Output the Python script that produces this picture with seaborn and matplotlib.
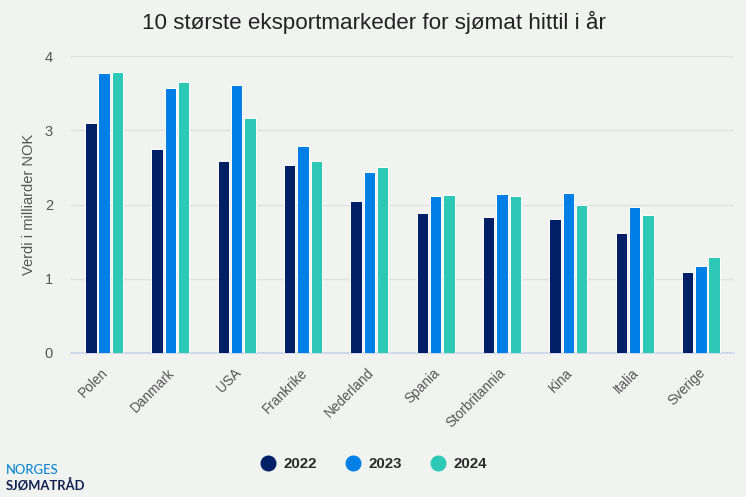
import matplotlib
matplotlib.use("Agg")
import matplotlib.pyplot as plt
import matplotlib.transforms as mtrans
import pandas as pd
import seaborn as sns
from matplotlib.lines import Line2D

countries = ["Polen", "Danmark", "USA", "Frankrike", "Nederland", "Spania",
             "Storbritannia", "Kina", "Italia", "Sverige"]
v2022 = [3.10, 2.75, 2.58, 2.53, 2.05, 1.88, 1.83, 1.81, 1.61, 1.09]
v2023 = [3.77, 3.57, 3.61, 2.79, 2.44, 2.11, 2.14, 2.16, 1.96, 1.17]
v2024 = [3.79, 3.65, 3.17, 2.58, 2.50, 2.13, 2.11, 1.99, 1.86, 1.29]
years = ["2022", "2023", "2024"]
colors = ["#001f66", "#0080e6", "#2dc8b6"]
BG = "#f1f3f1"

df = pd.DataFrame({"land": countries * 3,
                   "år": sum([[y] * 10 for y in years], []),
                   "verdi": v2022 + v2023 + v2024})

sns.set_theme(style="white")
plt.rcParams["font.family"] = ["Liberation Sans", "DejaVu Sans"]
fig = plt.figure(figsize=(7.46, 4.97), dpi=100, facecolor=BG)
ax = fig.add_axes([71 / 746, 1 - 353 / 497, 663 / 746, 297 / 497], facecolor=BG)

sns.barplot(data=df, x="land", y="verdi", hue="år", palette=colors, width=0.6,
            gap=0.14, edgecolor="white", linewidth=0.7, saturation=1,
            legend=False, ax=ax, zorder=3)

ax.set_xlim(-0.5, 9.5)
ax.set_ylim(0, 4)
ax.set_yticks([0, 1, 2, 3, 4])
ax.grid(axis="y", color="#e0e2e0", lw=1, zorder=0)
ax.set_axisbelow(True)
for s in ax.spines.values():
    s.set_visible(False)
ax.spines["bottom"].set_visible(True)
ax.spines["bottom"].set_color("#ccd6eb")
ax.tick_params(axis="y", length=0, pad=13, labelsize=10.5, labelcolor="#555555")
ax.tick_params(axis="x", length=0, pad=9, labelsize=9.8, labelcolor="#555555")
ax.set_xlabel("")
ax.set_ylabel("Verdi i milliarder NOK", fontsize=10.5, color="#555555", labelpad=6.5)
shift = mtrans.ScaledTranslation(-3 / 100, 0, fig.dpi_scale_trans)
for lab in ax.get_xticklabels():
    lab.set_rotation(45)
    lab.set_ha("right")
    lab.set_rotation_mode("anchor")
    lab.set_transform(lab.get_transform() + shift)

fig.text(373.5 / 746, 1 - 22 / 497, "10 største eksportmarkeder for sjømat hittil i år",
         ha="center", va="center", fontsize=16.1, color="#222222")

handles = [Line2D([], [], ls="", marker="o", ms=10.5, color=c, label=y)
           for c, y in zip(colors, years)]
fig.legend(handles=handles, loc="center", bbox_to_anchor=(370 / 746, 1 - 464 / 497),
           ncol=3, frameon=False, handletextpad=0.05, columnspacing=1.4,
           prop={"weight": "bold", "size": 10.8}, labelcolor="#2b2b2b")

fig.text(6 / 746, 1 - 470 / 497, "NORGES", color="#0a84d0", fontsize=9.4,
         va="center", ha="left", family="Lato", weight="medium")
fig.text(6 / 746, 1 - 485 / 497, "SJØMATRÅD", color="#0f2050", fontsize=9.4,
         va="center", ha="left", family="Lato", weight="bold")

fig.savefig("out.png", dpi=100, facecolor=BG)
